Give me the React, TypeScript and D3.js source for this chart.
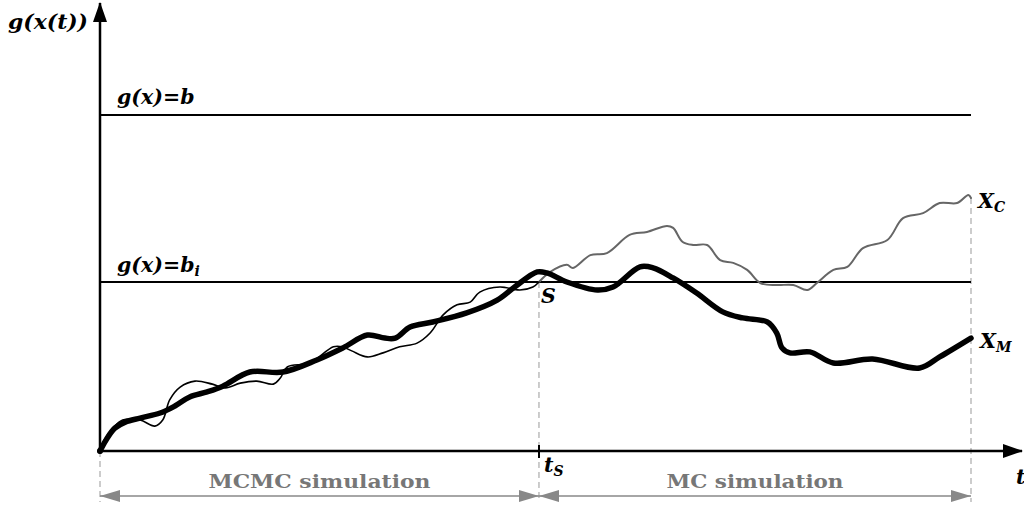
import React from "react";
import * as d3 from "d3";

// Data (t: 0..10 time units, g: 0..10 response units)
const levelB = 10;
const levelBi = 5.03;
const tS = 5.04;
const tEnd = 10;

const mcmcT = [0, 0.05, 0.15, 0.26, 0.46, 0.63, 0.72, 0.8, 0.92, 1.09, 1.29, 1.44, 1.61, 1.8, 1.99, 2.07, 2.15, 2.41, 2.68, 2.78, 2.89, 3.07, 3.25, 3.44, 3.64, 3.79, 3.94, 4.1, 4.25, 4.36, 4.59, 4.82, 4.97, 5.04];
const mcmcG = [0, 0.33, 0.68, 0.92, 0.92, 0.74, 0.92, 1.52, 1.9, 2.08, 1.99, 1.88, 2.02, 2.08, 1.99, 2.17, 2.5, 2.62, 3.1, 3.1, 2.98, 2.8, 2.92, 3.1, 3.21, 3.51, 4.05, 4.35, 4.43, 4.73, 4.88, 4.79, 4.88, 5.03];

const xmT = [0, 0.07, 0.17, 0.29, 0.46, 0.69, 0.86, 1.03, 1.23, 1.41, 1.72, 2.1, 2.49, 2.79, 3.07, 3.27, 3.39, 3.56, 3.82, 4.21, 4.56, 4.76, 5.02, 5.13, 5.36, 5.71, 5.89, 6.2, 6.35, 6.58, 6.85, 7.15, 7.38, 7.66, 7.77, 7.83, 7.92, 8.15, 8.42, 8.87, 9.41, 9.64, 10.0];
const xmG = [0, 0.33, 0.68, 0.86, 0.98, 1.13, 1.34, 1.61, 1.76, 1.93, 2.35, 2.35, 2.71, 3.07, 3.45, 3.36, 3.36, 3.69, 3.84, 4.11, 4.49, 4.88, 5.33, 5.3, 5.03, 4.79, 4.88, 5.48, 5.45, 5.15, 4.7, 4.14, 3.96, 3.84, 3.51, 3.07, 2.92, 2.95, 2.62, 2.74, 2.47, 2.8, 3.36];

const xcT = [5.04, 5.17, 5.36, 5.43, 5.63, 5.82, 6.08, 6.28, 6.51, 6.58, 6.69, 6.81, 6.97, 7.12, 7.27, 7.43, 7.58, 7.77, 7.96, 8.12, 8.23, 8.42, 8.58, 8.76, 9.04, 9.22, 9.45, 9.64, 9.84, 9.97, 10.0];
const xcG = [5.03, 5.33, 5.54, 5.45, 5.83, 5.89, 6.43, 6.52, 6.7, 6.64, 6.22, 6.13, 6.13, 5.68, 5.6, 5.39, 5.0, 4.94, 4.94, 4.79, 5.0, 5.39, 5.48, 6.04, 6.28, 6.93, 7.08, 7.38, 7.38, 7.62, 7.53];

const phaseLabels = ["MCMC simulation", "MC simulation"];

const W = 1024;
const H = 507;

export default function App() {
  const x = d3.scaleLinear().domain([0, 10]).range([100, 971]);
  const y = d3.scaleLinear().domain([0, 10]).range([451, 115]);

  const line = d3
    .line<[number, number]>()
    .x((d) => x(d[0]))
    .y((d) => y(d[1]))
    .curve(d3.curveCatmullRom.alpha(0.5));

  const zip = (a: number[], b: number[]) => a.map((v, i) => [v, b[i]] as [number, number]);

  const x0 = x(0);
  const xs = x(tS);
  const xe = x(tEnd);
  const y0 = y(0);
  const arrowY = 496;
  const font = "DejaVu Serif, serif";
  const mathStyle: React.CSSProperties = { fontFamily: font, fontStyle: "italic", fontWeight: "bold" };
  const fs = 20.5;
  const sub = 14;

  const endXC = xcG[xcG.length - 1];
  const endXM = xmG[xmG.length - 1];

  return (
    <svg width={W} height={H} style={{ position: "absolute", left: 0, top: 0, background: "#fff" }}>
      <defs>
        <marker id="blackArrow" viewBox="0 0 20 14" refX="19" refY="7" markerWidth="20" markerHeight="14" markerUnits="userSpaceOnUse" orient="auto">
          <path d="M0,0 L20,7 L0,14 Z" fill="#000" />
        </marker>
        <marker id="grayEnd" viewBox="0 0 20 12" refX="20" refY="6" markerWidth="20" markerHeight="12" markerUnits="userSpaceOnUse" orient="auto">
          <path d="M0,0 L20,6 L0,12 Z" fill="#888" />
        </marker>
        <marker id="grayStart" viewBox="0 0 20 12" refX="0" refY="6" markerWidth="20" markerHeight="12" markerUnits="userSpaceOnUse" orient="auto">
          <path d="M20,0 L0,6 L20,12 Z" fill="#888" />
        </marker>
      </defs>

      {/* dashed guides */}
      <g stroke="#999" strokeWidth={1} strokeDasharray="6,4" fill="none">
        <line x1={x0} x2={x0} y1={y0} y2={arrowY + 6} />
        <line x1={xs} x2={xs} y1={y(levelBi)} y2={arrowY + 6} />
        <line x1={xe} x2={xe} y1={y(endXC)} y2={arrowY + 6} />
      </g>

      {/* level lines */}
      <line x1={x0} x2={xe} y1={y(levelB)} y2={y(levelB)} stroke="#000" strokeWidth={2} />
      <line x1={x0} x2={xe} y1={y(levelBi)} y2={y(levelBi)} stroke="#000" strokeWidth={2} />

      {/* axes */}
      <line x1={x0} x2={x0} y1={y0 + 1} y2={3} stroke="#000" strokeWidth={2.5} markerEnd="url(#blackArrow)" />
      <line x1={x0 - 1} x2={1022} y1={y0} y2={y0} stroke="#000" strokeWidth={2.5} markerEnd="url(#blackArrow)" />
      <line x1={xs} x2={xs} y1={y0 - 6} y2={y0 + 7} stroke="#000" strokeWidth={2} />

      {/* paths */}
      <path d={line(zip(xcT, xcG)) || ""} fill="none" stroke="#666" strokeWidth={2} strokeLinecap="round" />
      <path d={line(zip(mcmcT, mcmcG)) || ""} fill="none" stroke="#000" strokeWidth={1.6} strokeLinecap="round" />
      <path d={line(zip(xmT, xmG)) || ""} fill="none" stroke="#000" strokeWidth={5.5} strokeLinecap="round" />
      <circle cx={x0} cy={y0} r={3} fill="#000" />

      {/* phase arrows */}
      <line x1={x0} x2={xs} y1={arrowY} y2={arrowY} stroke="#888" strokeWidth={1.5} markerStart="url(#grayStart)" markerEnd="url(#grayEnd)" />
      <line x1={xs} x2={xe} y1={arrowY} y2={arrowY} stroke="#888" strokeWidth={1.5} markerStart="url(#grayStart)" markerEnd="url(#grayEnd)" />
      <text x={(x0 + xs) / 2} y={488} textAnchor="middle" fill="#777" fontFamily={font} fontWeight="bold" fontSize={19} textLength={222} lengthAdjust="spacingAndGlyphs">{phaseLabels[0]}</text>
      <text x={(xs + xe) / 2} y={488} textAnchor="middle" fill="#777" fontFamily={font} fontWeight="bold" fontSize={19} textLength={177} lengthAdjust="spacingAndGlyphs">{phaseLabels[1]}</text>

      {/* labels */}
      <text x={8} y={29} fontSize={fs} style={mathStyle} textLength={80} lengthAdjust="spacingAndGlyphs">g(x(t))</text>
      <text x={117} y={104} fontSize={fs} style={mathStyle}>g(x)=b</text>
      <text x={117} y={272} fontSize={fs} style={mathStyle}>g(x)=b<tspan fontSize={sub} dy={4}>i</tspan></text>
      <text x={541} y={303} fontSize={fs} style={mathStyle}>S</text>
      <text x={544} y={472} fontSize={fs} style={mathStyle}>t<tspan fontSize={sub} dy={4}>S</tspan></text>
      <text x={1016} y={484} fontSize={fs} style={mathStyle}>t</text>
      <text x={978} y={y(endXC) + 10} fontSize={fs} style={mathStyle}>X<tspan fontSize={sub} dy={4}>C</tspan></text>
      <text x={980} y={y(endXM) + 10} fontSize={fs} style={mathStyle}>X<tspan fontSize={sub} dy={4}>M</tspan></text>
    </svg>
  );
}
